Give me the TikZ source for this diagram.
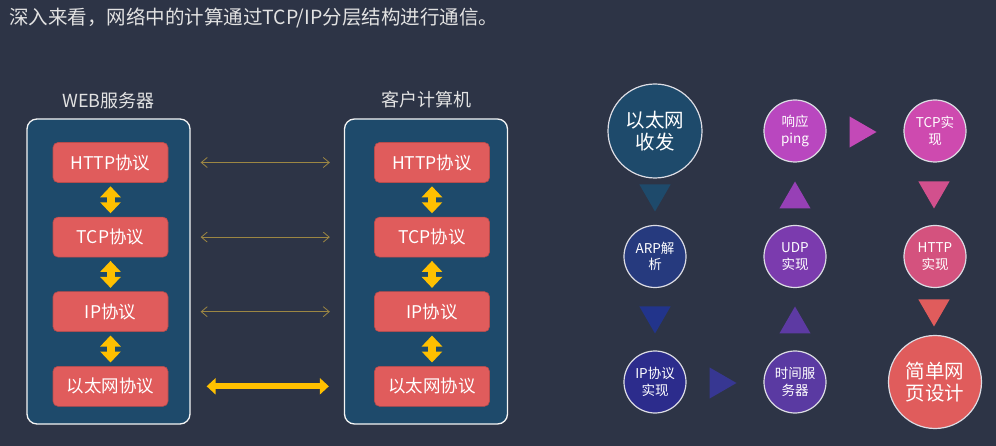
\documentclass[tikz,border=0pt]{standalone}
\usepackage{fontspec}
\setmainfont{Noto Sans CJK SC}
\usepackage{xcolor}
\usepackage{tikz}
\usetikzlibrary{shapes,arrows.meta,positioning}

\definecolor{bgdark}{HTML}{2D3446}
\definecolor{panelblue}{HTML}{1E4A6B}
\definecolor{layerred}{HTML}{E05C5C}
\definecolor{arrowyellow}{HTML}{FFC000}
\definecolor{peergold}{HTML}{9C8643}
\definecolor{ringgray}{HTML}{DCDCE4}
\definecolor{headgray}{HTML}{E2E2E2}
\definecolor{etheth}{HTML}{1E4A6B}
\definecolor{arpblue}{HTML}{263A7E}
\definecolor{ipblue}{HTML}{2C2C8C}
\definecolor{timeviolet}{HTML}{5A3AA2}
\definecolor{udpviolet}{HTML}{7B3BAE}
\definecolor{pingpink}{HTML}{B947BF}
\definecolor{tcppink}{HTML}{CE4AAF}
\definecolor{httprose}{HTML}{D4527E}
\definecolor{webred}{HTML}{E05C5C}

\tikzset{
    headline/.style = {text=headgray, font=\fontsize{19.5pt}{22pt}\selectfont, inner sep=0pt},
    panel/.style = {rectangle, rounded corners=10pt, minimum width=163pt, minimum height=305pt, draw=white!92!gray, line width=1.3pt, fill=panelblue},
    paneltitle/.style = {text=headgray, font=\fontsize{18pt}{20pt}\selectfont, inner sep=0pt},
    layer/.style = {rectangle, rounded corners=5pt, minimum width=115pt, minimum height=40pt, text centered, draw=layerred!82!black, line width=0.6pt, fill=layerred, text=white, font=\fontsize{17.5pt}{20pt}\selectfont},
    stack/.style = {draw=arrowyellow, line width=8pt, {Triangle[length=11pt,width=20pt]}-{Triangle[length=11pt,width=20pt]}, shorten <=3.5pt, shorten >=3.5pt},
    peer/.style = {draw=peergold, line width=0.8pt, {Straight Barb[length=6pt,width=10pt]}-{Straight Barb[length=6pt,width=10pt]}, shorten <=10pt, shorten >=14pt},
    link/.style = {draw=arrowyellow, line width=6pt, {Triangle[length=9pt,width=16pt]}-{Triangle[length=9pt,width=16pt]}, shorten <=16pt, shorten >=15pt},
    stage/.style = {circle, minimum size=62pt, inner sep=0pt, draw=ringgray, line width=1.2pt, text=white, align=center, font=\fontsize{13.5pt}{16.5pt}\selectfont},
    bigstage/.style = {stage, minimum size=94pt, font=\fontsize{19.5pt}{22pt}\selectfont},
    tridown/.style = {regular polygon, regular polygon sides=3, shape border rotate=180, minimum size=36pt, inner sep=0pt},
    triup/.style = {regular polygon, regular polygon sides=3, minimum size=36pt, inner sep=0pt},
    triright/.style = {regular polygon, regular polygon sides=3, shape border rotate=-90, minimum size=36pt, inner sep=0pt}
}

\begin{document}
\begin{tikzpicture}[x=1pt, y=-1pt, node distance=140pt]
    \fill[bgdark] (0,0) rectangle (996,446);
    \useasboundingbox (0,0) rectangle (996,446);

    % Title
    \node[headline, anchor=west] (headline) at (9,18) {深入来看，网络中的计算通过TCP/IP分层结构进行通信。};

    % Panels
    \node[panel] (server) at (108.5,271.5) {};
    \node[panel] (client) at (426,271.5) {};
    \node[paneltitle, above=9pt of server] (servertitle) {WEB服务器};
    \node[paneltitle, above=10pt of client] (clienttitle) {客户计算机};

    % Layers
    \node[layer] (http1) at (110.5,162.5) {HTTP协议};
    \node[layer, below=34pt of http1] (tcp1) {TCP协议};
    \node[layer, below=34pt of tcp1] (ip1) {IP协议};
    \node[layer, below=34pt of ip1] (eth1) {以太网协议};

    \node[layer] (http2) at (432,162.5) {HTTP协议};
    \node[layer, below=34pt of http2] (tcp2) {TCP协议};
    \node[layer, below=34pt of tcp2] (ip2) {IP协议};
    \node[layer, below=34pt of ip2] (eth2) {以太网协议};

    % Relations
    \foreach \a/\b in {http1/tcp1, tcp1/ip1, ip1/eth1, http2/tcp2, tcp2/ip2, ip2/eth2}
        \draw[stack] (\a.south) -- (\b.north);
    \foreach \l in {http, tcp, ip}
        \draw[peer] (\l1.east -| server.east) -- (\l2.west -| client.west);
    \draw[link] (eth1.east -| server.east) -- (eth2.west -| client.west);

    % Stages
    \node[bigstage, fill=etheth] (eth) at (655,131) {以太网\\收发};
    \node[stage, fill=pingpink, right of=eth] (ping) {响应\\ping};
    \node[stage, fill=tcppink, right of=ping] (tcp) {TCP实\\现};
    \node[stage, fill=arpblue, below of=eth, yshift=14.5pt] (arp) {ARP解\\析};
    \node[stage, fill=udpviolet, right of=arp] (udp) {UDP\\实现};
    \node[stage, fill=httprose, right of=udp] (http) {HTTP\\实现};
    \node[stage, fill=ipblue, below of=arp, yshift=14.5pt] (ipimpl) {IP协议\\实现};
    \node[stage, fill=timeviolet, right of=ipimpl] (timesrv) {时间服\\务器};
    \node[bigstage, fill=webred, right of=timesrv, minimum size=93pt] (webpage) {简单网\\页设计};

    % Steps
    \node[tridown, fill=etheth] (t1) at (655,193.5) {};
    \node[tridown, fill=arpblue!90!blue] (t2) at (655,315.5) {};
    \node[triright, fill=ipblue!95!white] (t3) at (718.5,383) {};
    \node[triup, fill=timeviolet!90!udpviolet] (t4) at (795,324.5) {};
    \node[triup, fill=udpviolet!55!pingpink] (t5) at (795,199.5) {};
    \node[triright, fill=pingpink!50!tcppink] (t6) at (858.5,132) {};
    \node[tridown, fill=httprose!70!tcppink] (t7) at (934,190.5) {};
    \node[tridown, fill=webred] (t8) at (934,308.5) {};
\end{tikzpicture}
\end{document}
